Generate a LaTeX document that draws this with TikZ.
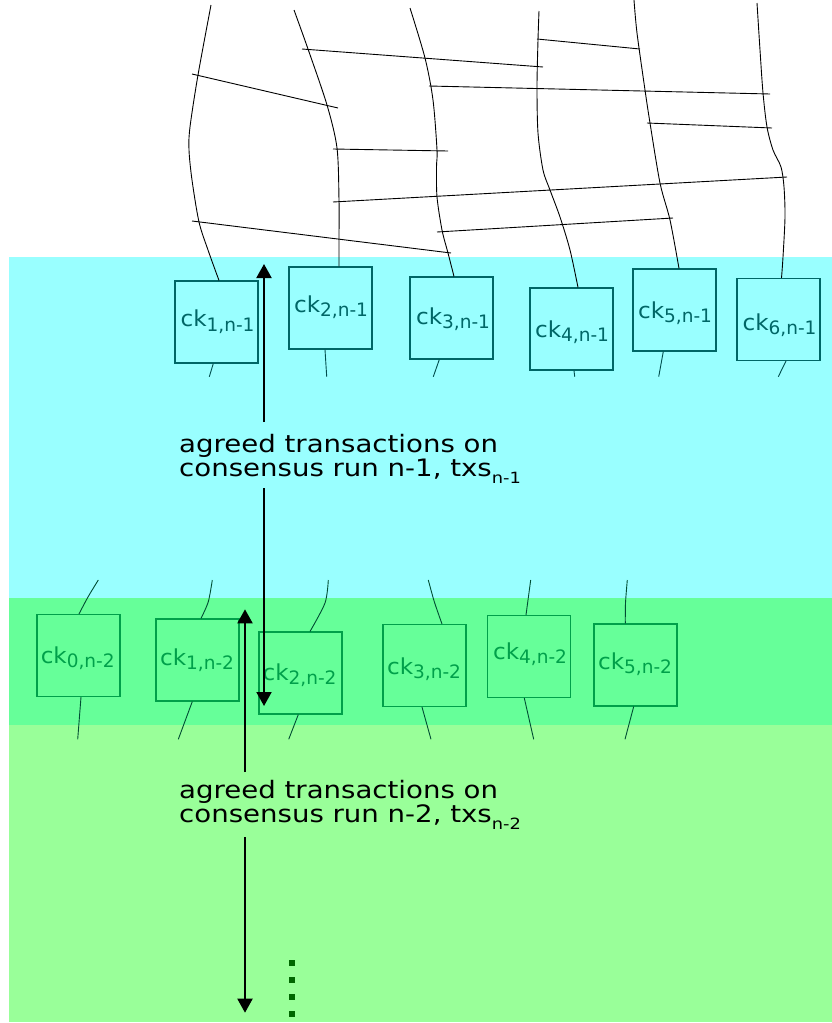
\documentclass[tikz,border=0pt]{standalone}
\usepackage{fontspec}
\setmainfont{DejaVu Sans}
\usetikzlibrary{arrows.meta}
\definecolor{cyanbg}{HTML}{99FFFF}
\definecolor{greenbg}{HTML}{66FF99}
\definecolor{lightgreenbg}{HTML}{99FF99}
\definecolor{tealline}{HTML}{006666}
\definecolor{tealstub}{HTML}{004D4D}
\definecolor{greenline}{HTML}{00A04A}
\definecolor{greenstub}{HTML}{004D33}
\definecolor{dotgreen}{HTML}{006600}
\newcommand{\cklab}[1]{\scalebox{1.05}[1]{ck}\raisebox{-4.5pt}{\fontsize{18.5}{18.5}\selectfont #1}}
\newcommand{\txsub}[1]{\raisebox{-7pt}{\fontsize{15.5}{15.5}\selectfont #1}}
\newcommand{\agreedtext}[1]{\vtop{\baselineskip=24pt
  \hbox{\scalebox{1.15}[1]{agreed transactions on}}
  \hbox{\scalebox{1.15}[1]{consensus run #1, txs\txsub{#1}}}}}
\tikzset{
  upbox/.style={draw=tealline, line width=1.1pt, minimum width=83pt, minimum height=82pt, inner sep=0pt},
  lowbox/.style={draw=greenline, line width=1.1pt, minimum width=83pt, minimum height=82pt, inner sep=0pt},
  uplab/.style={anchor=base, inner sep=0pt, text=tealline, font=\fontsize{22}{26}\selectfont},
  lowlab/.style={anchor=base, inner sep=0pt, text=greenline, font=\fontsize{22}{26}\selectfont},
  branch/.style={black, line width=0.9pt},
  cross/.style={black, line width=0.9pt},
  upstub/.style={tealstub, line width=0.9pt},
  lowstub/.style={greenstub, line width=0.9pt},
  bigarrow/.style={black, line width=2pt},
  tip/.style={-{Triangle[width=15pt,length=14pt]}},
  infotext/.style={anchor=base west, inner sep=0pt, font=\fontsize{24}{24}\selectfont},
  dotsq/.style={fill=dotgreen}
}
\begin{document}
\begin{tikzpicture}[x=1pt,y=-1pt]
\useasboundingbox (0,0) rectangle (832,1023);
\fill[white] (0,0) rectangle (832,1023);
% background bands
\fill[cyanbg] (9,257) rectangle (832,598);
\fill[greenbg] (9,598) rectangle (832,725);
\fill[lightgreenbg] (9,725) rectangle (832,1021.7);

% upper checkpoint boxes
\node[upbox] (b1) at (216.5,322) {};
\node[upbox] (b2) at (330.5,308) {};
\node[upbox] (b3) at (451.5,318) {};
\node[upbox] (b4) at (571.5,329) {};
\node[upbox] (b5) at (674.5,310) {};
\node[upbox] (b6) at (778.5,319.5) {};
\node[uplab] (l1) at (217.5,326.7) {\cklab{1,n-1}};
\node[uplab] (l2) at (331,312) {\cklab{2,n-1}};
\node[uplab] (l3) at (453,324) {\cklab{3,n-1}};
\node[uplab] (l4) at (572,337) {\cklab{4,n-1}};
\node[uplab] (l5) at (675,318) {\cklab{5,n-1}};
\node[uplab] (l6) at (779.5,330) {\cklab{6,n-1}};

% lower checkpoint boxes
\node[lowbox] (c0) at (78.5,655.5) {};
\node[lowbox] (c1) at (197.5,660) {};
\node[lowbox] (c2) at (300.5,673) {};
\node[lowbox] (c3) at (424.5,665.5) {};
\node[lowbox] (c4) at (529,656.5) {};
\node[lowbox] (c5) at (635.5,665) {};
\node[lowlab] (m0) at (77.7,663.3) {\cklab{0,n-2}};
\node[lowlab] (m1) at (197,665) {\cklab{1,n-2}};
\node[lowlab] (m2) at (299.5,680) {\cklab{2,n-2}};
\node[lowlab] (m3) at (424,674) {\cklab{3,n-2}};
\node[lowlab] (m4) at (530,659) {\cklab{4,n-2}};
\node[lowlab] (m5) at (635,669) {\cklab{5,n-2}};

% branch end points on the box tops
\coordinate (eA) at (219,0 |- b1.north);
\coordinate (eB) at (339,0 |- b2.north);
\coordinate (eC) at (454,0 |- b3.north);
\coordinate (eD) at (578,0 |- b4.north);
\coordinate (eE) at (679,0 |- b5.north);
\coordinate (eF) at (781.5,0 |- b6.north);

% branches
\draw[branch] plot[smooth] coordinates {(211,5) (198,75) (190,127) (189,150) (192,180) (199,222) (208,250) (eA)};
\draw[branch] plot[smooth] coordinates {(294,10) (308,49) (327,105) (337,148) (339,200) (339,238) (eB)};
\draw[branch] plot[smooth] coordinates {(410,8) (425,58) (433,100) (437,150) (436.5,167) (437,197) (442,230) (448,253) (eC)};
\draw[branch] plot[smooth] coordinates {(539,11) (538,40) (537,87) (538,133) (543,170) (550,190) (560,217) (570,250) (eD)};
\draw[branch] plot[smooth] coordinates {(634,0) (637,33) (645,90) (650,123) (660,183) (670,220) (eE)};
\draw[branch] plot[smooth] coordinates {(757,3) (760,50) (763,93) (767,127) (773,150) (781,167) (784,187) (785,217) (783,257) (eF)};

% cross links
\draw[cross] (192,74) -- (338,108);
\draw[cross] (302,49) -- (543,67);
\draw[cross] (429,86) -- (770,94);
\draw[cross] (333,149) -- (448,151);
\draw[cross] (333,202) -- (787,177);
\draw[cross] (192,221) -- (451,253);
\draw[cross] (437,232) -- (673,218);
\draw[cross] (537,39) -- (640,49);
\draw[cross] (647,123) -- (772,128);

% stubs below the upper boxes
\draw[upstub] (213.3,0 |- b1.south) -- (209.3,376.7);
\draw[upstub] (325,0 |- b2.south) -- (326.7,376.7);
\draw[upstub] (439.3,0 |- b3.south) -- (433.3,376.7);
\draw[upstub] (574,0 |- b4.south) -- (574.7,376.7);
\draw[upstub] (663.3,0 |- b5.south) -- (658.7,376.7);
\draw[upstub] (786,0 |- b6.south) -- (778.3,376.7);

% stubs above the lower boxes
\coordinate (f0) at (79,0 |- c0.north);
\coordinate (f1) at (201,0 |- c1.north);
\coordinate (f2) at (310,0 |- c2.north);
\coordinate (f3) at (442,0 |- c3.north);
\coordinate (f4) at (526,0 |- c4.north);
\coordinate (f5) at (625.3,0 |- c5.north);
\draw[lowstub] plot[smooth] coordinates {(98.3,580) (88,597) (f0)};
\draw[lowstub] plot[smooth] coordinates {(212.3,580) (208.3,601.7) (f1)};
\draw[lowstub] plot[smooth] coordinates {(328.3,580) (325,603) (f2)};
\draw[lowstub] plot[smooth] coordinates {(428.3,580) (434.3,601.7) (f3)};
\draw[lowstub] (530.7,580) -- (f4);
\draw[lowstub] plot[smooth] coordinates {(627.3,580) (625.5,603) (f5)};

% stubs below the lower boxes
\draw[lowstub] (81,0 |- c0.south) -- (77.7,739.3);
\draw[lowstub] (192.3,0 |- c1.south) -- (178.3,739.3);
\draw[lowstub] (298.3,0 |- c2.south) -- (288.7,739.3);
\draw[lowstub] (422,0 |- c3.south) -- (431,739.3);
\draw[lowstub] (524.3,0 |- c4.south) -- (533.7,739.3);
\draw[lowstub] (633.7,0 |- c5.south) -- (625,739.3);

% texts
\node[infotext] (t1) at (179,452) {\agreedtext{n-1}};
\node[infotext] (t2) at (179,798.3) {\agreedtext{n-2}};

% arrows
\coordinate (a1top) at (264,264);
\coordinate (a1m1) at (264,422);
\coordinate (a1m2) at (264,488);
\coordinate (a1bot) at (264,706);
\draw[bigarrow,tip] (a1m1) -- (a1top);
\draw[bigarrow,tip] (a1m2) -- (a1bot);
\coordinate (a2top) at (245,609.3);
\coordinate (a2m1) at (245,772);
\coordinate (a2m2) at (245,837);
\coordinate (a2bot) at (245,1012.7);
\draw[bigarrow,tip] (a2m1) -- (a2top);
\draw[bigarrow,tip] (a2m2) -- (a2bot);

% continuation dots
\foreach \yy in {963,980,997,1014} {
  \fill[dotsq] (289,\yy-3) rectangle (295,\yy+3);
}
\end{tikzpicture}
\end{document}
